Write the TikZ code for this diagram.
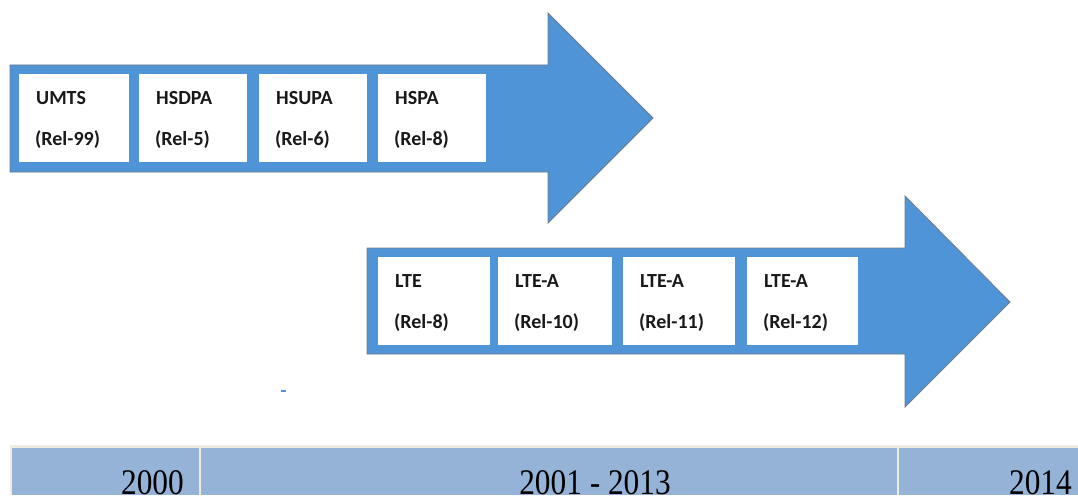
\documentclass[tikz,border=0pt]{standalone}
\usepackage{fontspec}
\setmainfont{Liberation Serif}
\newfontfamily\boxfont{Carlito}
\usetikzlibrary{calc}
\definecolor{arrowblue}{RGB}{79,148,214}
\definecolor{arrowedge}{RGB}{112,122,134}
\definecolor{cellblue}{RGB}{149,179,215}
\definecolor{cellrule}{RGB}{238,236,225}
\tikzset{
  bigarrow/.style={fill=arrowblue, draw=arrowedge, line width=0.8pt, line join=miter},
  relbox/.style={fill=white, draw=none, rectangle, inner sep=0pt, minimum height=88pt},
  boxtext/.style={font=\boxfont\bfseries\fontsize{20}{22}\selectfont, text=black!90, anchor=base west, inner sep=0pt},
  yeartext/.style={font=\fontsize{36}{38}\selectfont, inner sep=0pt, anchor=base},
}
\begin{document}
\begin{tikzpicture}[x=1pt,y=-1pt]
\useasboundingbox (0,0) rectangle (1078,495);
\begin{scope}
\clip (0,0) rectangle (1078,495);

% upper arrow: 3G releases
\draw[bigarrow] (10,65) -- (548,65) -- (548,13) -- (653,118) -- (548,223) -- (548,172) -- (10,172) -- cycle;
% lower arrow: 4G releases
\draw[bigarrow] (367,248) -- (905,248) -- (905,196) -- (1010,302) -- (905,407) -- (905,354) -- (367,354) -- cycle;

% release boxes, upper row
\node[relbox, minimum width=110pt, anchor=north west] (umts)  at (19,74)  {};
\node[relbox, minimum width=108pt, anchor=north west] (hsdpa) at (139,74) {};
\node[relbox, minimum width=108pt, anchor=north west] (hsupa) at (259,74) {};
\node[relbox, minimum width=108pt, anchor=north west] (hspa)  at (378,74) {};

% release boxes, lower row
\node[relbox, minimum width=112pt, anchor=north west] (lte)   at (378,257) {};
\node[relbox, minimum width=114pt, anchor=north west] (ltea)  at (498,257) {};
\node[relbox, minimum width=112pt, anchor=north west] (lteb)  at (623,257) {};
\node[relbox, minimum width=111pt, anchor=north west] (ltec)  at (747,257) {};

% box labels
\foreach \b/\t/\r in {umts/UMTS/(Rel-99), hsdpa/HSDPA/(Rel-5), hsupa/HSUPA/(Rel-6), hspa/HSPA/(Rel-8),
                      lte/LTE/(Rel-8), ltea/LTE-A/(Rel-10), lteb/LTE-A/(Rel-11), ltec/LTE-A/(Rel-12)} {
  \node[boxtext] (\b-name) at ($(\b.north west)+(17,30)$) {\t};
  \node[boxtext] (\b-rel)  at ($(\b.north west)+(16,71)$) {\r};
}

% small stray tick
\fill[arrowblue] (281,390) rectangle (286,392);

% timeline table
\fill[cellrule] (10,445) rectangle (1078,495);
\fill[cellblue] (12,448) rectangle (199,495);
\fill[cellblue] (201,448) rectangle (897,495);
\fill[cellblue] (899,448) rectangle (1078,495);
\node[yeartext, anchor=base east] (y2000) at (184,494) {\scalebox{0.87}[1]{2000}};
\node[yeartext] (ymid) at (595,494) {\scalebox{0.87}[1]{2001 - 2013}};
\node[yeartext, anchor=base east] (y2014) at (1072,494) {\scalebox{0.87}[1]{2014}};
\end{scope}
\end{tikzpicture}
\end{document}
